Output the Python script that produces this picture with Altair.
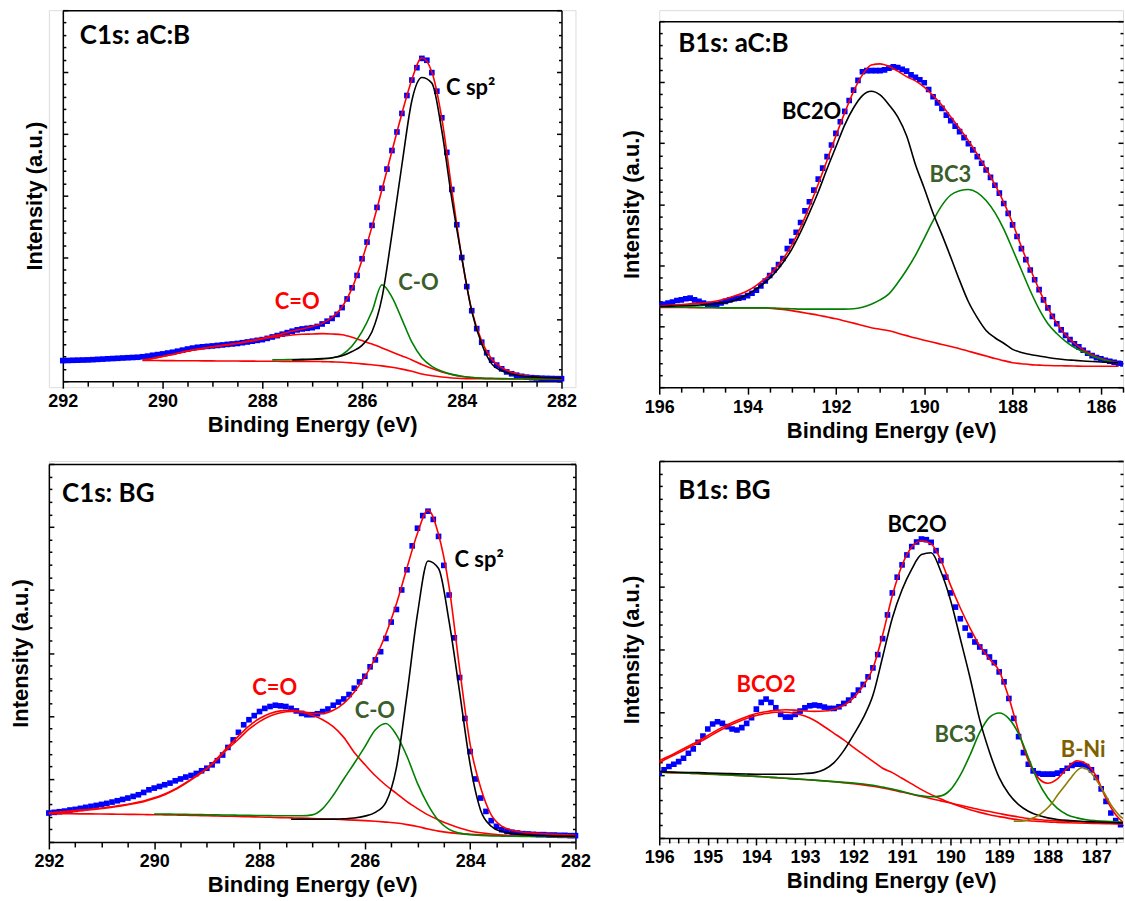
import altair as alt
import pandas as pd

def grid(start, stop, step):
    n = int(round((start - stop) / step)) + 1
    return [round(start - i * step, 2) for i in range(n)]

RED = "#ff0000"; BLUE = "#0000ff"; GREEN = "#008000"; BLACK = "#000000"
OLIVE = "#8c7d00"; DKGREEN = "#3b5e2b"; GOLD = "#7f6000"
AXF = "Liberation Sans"; LBF = "Lato"

# ---------------- Panel 1: C1s aC:B ----------------
P1_DATA_E = grid(292.0, 282.0, 0.1)
P1_DATA = [
 3.33, 3.35, 3.38, 3.40, 3.42, 3.44, 3.48, 3.53, 3.57, 3.62,
 3.66, 3.70, 3.75, 3.79, 3.83, 3.87, 3.95, 4.05, 4.19, 4.30,
 4.41, 4.55, 4.68, 4.85, 5.02, 5.20, 5.35, 5.48, 5.56, 5.63,
 5.70, 5.78, 5.86, 5.95, 6.02, 6.10, 6.22, 6.34, 6.47, 6.60,
 6.72, 6.92, 7.15, 7.37, 7.60, 7.85, 8.08, 8.30, 8.45, 8.55,
 8.65, 8.85, 9.25, 9.70, 10.15, 10.8, 11.9, 13.3, 15.1, 17.1,
 19.8, 22.5, 25.2, 28.1, 31.2, 34.3, 37.3, 40.3, 43.3, 46.2,
 48.7, 50.7, 52.2, 51.9, 49.9, 46.9, 42.6, 37.0, 31.0, 25.3,
 20.0, 15.3, 11.4, 8.5, 6.3, 4.6, 3.4, 2.6, 2.0, 1.5,
 1.2, 0.97, 0.78, 0.65, 0.57, 0.52, 0.48, 0.45, 0.43, 0.41,
 0.40]
P1_FIT_E = grid(290.4, 282.0, 0.2)
P1_ENV = [
 3.4, 3.68, 4.0, 4.32, 4.7, 5.02, 5.3, 5.57, 5.8, 6.03,
 6.3, 6.6, 6.95, 7.3, 7.65, 8.1, 8.45, 8.85, 9.35, 10.3,
 12.0, 15.0, 19.6, 25.0, 31.0, 37.2, 43.3, 48.8, 52.3, 50.0,
 42.5, 31.0, 20.0, 11.5, 6.5, 3.6, 2.2, 1.45, 1.0, 0.75,
 0.6, 0.5, 0.45]
P1_CEQO = [
 3.39, 3.66, 3.98, 4.3, 4.68, 5.0, 5.27, 5.54, 5.75, 5.97,
 6.24, 6.5, 6.83, 7.1, 7.3, 7.47, 7.58, 7.63, 7.69, 7.63,
 7.5, 7.1, 6.56, 6.0, 5.38, 4.73, 4.09, 3.44, 2.69, 2.04,
 1.5, 1.08, 0.75, 0.6, 0.48, 0.43, 0.4, 0.4, 0.4, 0.4,
 0.4, 0.4, 0.4]
P1_BG = [
 3.35, 3.34, 3.33, 3.32, 3.31, 3.3, 3.29, 3.28, 3.27, 3.26,
 3.25, 3.24, 3.23, 3.22, 3.21, 3.2, 3.2, 3.2, 3.17, 3.12,
 3.07, 2.95, 2.8, 2.65, 2.48, 2.25, 1.95, 1.6, 1.15, 0.88,
 0.68, 0.52, 0.43, 0.4, 0.4, 0.4, 0.4, 0.4, 0.4, 0.4,
 0.4, 0.4, 0.4]
P1_CO_E = grid(287.8, 282.0, 0.2)
P1_CO = [
 3.45, 3.47, 3.5, 3.52, 3.55, 3.6, 3.75, 4.3, 5.7, 8.0,
 11.3, 15.6, 13.6, 10.0, 6.3, 3.8, 2.4, 1.6, 1.1, 0.8,
 0.6, 0.5, 0.45, 0.42, 0.4, 0.4, 0.4, 0.4, 0.4, 0.4]
P1_CSP2_E = grid(287.4, 282.0, 0.2)
P1_CSP2 = [
 3.45, 3.48, 3.55, 3.65, 3.8, 4.1, 4.8, 5.8, 8.0, 13.5,
 23.8, 35.0, 45.4, 49.1, 48.2, 40.5, 29.5, 20.0, 11.3, 6.0,
 2.8, 1.7, 1.15, 0.85, 0.7, 0.6, 0.55, 0.5]
P1_TITLE = ("C1s: aC:B", 291.66, 54.6)
P1_PEAKS = {"t": ["C sp\u00b2", "C-O", "C=O"], "E": [283.82, 284.87, 287.3],
            "V": [46.3, 14.8, 11.6], "c": [BLACK, DKGREEN, RED]}

# ---------------- Panel 2: B1s aC:B ----------------
P2_DATA_E = grid(196.0, 185.5, 0.1)
P2_DATA = [
 13.5, 13.6, 13.8, 13.95, 14.2, 14.3, 14.5, 14.6, 14.3, 14.06,
 13.8, 13.6, 13.5, 13.6, 13.8, 14.06, 14.3, 14.5, 14.6, 14.7,
 15.0, 15.4, 15.9, 16.6, 17.4, 18.3, 19.2, 20.1, 21.1, 22.7,
 23.9, 25.4, 27.0, 28.9, 30.4, 32.3, 34.1, 35.9, 37.8, 39.7,
 41.6, 43.5, 45.2, 47.0, 48.7, 50.3, 51.7, 51.9, 51.9, 51.9,
 51.9, 52.0, 52.3, 52.5, 52.4, 52.1, 51.8, 51.2, 50.8, 50.4,
 49.9, 48.8, 47.6, 46.6, 45.7, 44.6, 43.7, 42.8, 41.9, 40.9,
 39.9, 38.9, 37.8, 36.7, 35.6, 34.4, 33.1, 31.8, 30.1, 28.5,
 26.6, 24.7, 22.7, 20.9, 19.2, 17.6, 16.0, 14.3, 13.0, 11.6,
 10.4, 9.4, 8.5, 7.8, 7.1, 6.6, 6.05, 5.56, 5.18, 4.85,
 4.63, 4.41, 4.25, 4.09, 3.92, 3.81]
P2_FIT_E = grid(196.0, 185.6, 0.2)
P2_ENV = [
 13.3, 13.4, 13.5, 13.6, 13.7, 13.8, 14.0, 14.3, 14.7, 15.2,
 15.8, 16.7, 17.8, 19.2, 21.0, 23.3, 26.2, 29.6, 33.3, 37.2,
 41.2, 45.0, 48.5, 51.2, 52.8, 53.0, 52.6, 51.8, 50.9, 50.2,
 49.2, 47.8, 46.2, 44.3, 42.4, 40.4, 38.2, 35.8, 33.2, 30.3,
 26.9, 23.0, 19.4, 16.0, 13.0, 10.5, 8.6, 7.2, 6.1, 5.3,
 4.7, 4.3, 4.0]
P2_BC2O = [
 13.2, 13.25, 13.3, 13.35, 13.4, 13.5, 13.6, 13.8, 14.0, 14.5,
 15.2, 16.1, 17.2, 18.6, 20.4, 22.6, 25.4, 28.6, 32.0, 35.8,
 39.4, 43.0, 45.8, 47.8, 48.5, 47.9, 46.3, 44.3, 41.2, 36.5,
 32.6, 28.5, 25.0, 21.3, 17.5, 14.0, 11.4, 9.3, 8.1, 7.2,
 6.2, 5.7, 5.35, 5.1, 4.85, 4.65, 4.5, 4.4, 4.3, 4.2,
 4.12, 4.05, 4.0]
P2_BC3 = [
 13.2, 13.15, 13.1, 13.1, 13.1, 13.05, 13.05, 13.0, 13.0, 13.0,
 13.0, 13.0, 13.0, 12.95, 12.9, 12.85, 12.8, 12.8, 12.8, 12.8,
 12.8, 12.8, 12.85, 13.1, 13.6, 14.3, 15.3, 17.1, 19.2, 21.6,
 24.4, 27.3, 29.8, 31.5, 32.2, 32.4, 31.9, 30.6, 28.6, 25.9,
 22.6, 19.2, 15.8, 12.8, 10.4, 8.8, 7.5, 6.5, 5.8, 5.1,
 4.6, 4.2, 3.95]
P2_BG = [
 13.08, 13.07, 13.06, 13.05, 13.04, 13.02, 13.02, 13.01, 13.0, 13.0,
 13.0, 12.98, 12.97, 12.88, 12.75, 12.55, 12.3, 12.05, 11.8, 11.5,
 11.2, 10.85, 10.5, 10.1, 9.75, 9.5, 9.25, 8.85, 8.45, 8.05,
 7.7, 7.35, 7.0, 6.65, 6.3, 5.9, 5.5, 5.1, 4.7, 4.35,
 4.0, 3.85, 3.7, 3.62, 3.54, 3.51, 3.49, 3.46, 3.43, 3.43,
 3.43, 3.43, 3.43]
P2_TITLE = ("B1s: aC:B", 195.57, 54.9)
P2_PEAKS = {"t": ["BC2O", "BC3"], "E": [192.55, 189.41], "V": [43.9, 33.6], "c": [BLACK, DKGREEN]}

# ---------------- Panel 3: C1s BG ----------------
P3_DATA_E = grid(292.0, 282.0, 0.1)
P3_DATA = [
 4.59, 4.70, 4.80, 4.90, 5.07, 5.17, 5.33, 5.49, 5.65, 5.80,
 5.96, 6.12, 6.33, 6.54, 6.75, 6.97, 7.23, 7.49, 7.86, 8.28,
 8.55, 8.81, 9.08, 9.34, 9.71, 10.0, 10.3, 10.55, 10.87, 11.3,
 11.7, 12.24, 12.9, 13.8, 15.0, 16.2, 17.4, 18.6, 19.4, 20.05,
 20.7, 21.2, 21.5, 21.7, 21.6, 21.5, 21.2, 20.8, 20.4, 20.2,
 20.2, 20.35, 20.7, 21.1, 21.7, 22.2, 22.7, 23.4, 24.4, 25.4,
 26.3, 27.8, 28.9, 30.2, 32.3, 34.9, 36.9, 40.0, 43.2, 47.0,
 49.8, 51.8, 52.5, 51.2, 48.5, 43.9, 39.2, 32.4, 26.1, 19.6,
 14.35, 10.0, 6.97, 4.85, 3.38, 2.48, 1.95, 1.69, 1.53, 1.42,
 1.32, 1.27, 1.21, 1.16, 1.16, 1.1, 1.1, 1.05, 1.05, 1.0,
 1.0]
P3_FIT_E = grid(292.0, 282.0, 0.2)
P3_ENV = [
 4.6, 4.75, 4.9, 5.05, 5.2, 5.4, 5.6, 5.85, 6.15, 6.5,
 7.0, 7.6, 8.4, 9.4, 10.5, 11.7, 13.3, 15.1, 16.8, 18.4,
 19.6, 20.4, 20.8, 20.9, 20.7, 20.4, 20.4, 20.9, 22.0, 23.8,
 26.2, 29.2, 33.0, 37.8, 43.5, 49.0, 52.7, 48.8, 40.5, 27.5,
 15.5, 8.6, 4.3, 2.5, 1.85, 1.55, 1.4, 1.3, 1.22, 1.15,
 1.1]
P3_CEQO = [
 4.6, 4.7, 4.8, 4.95, 5.1, 5.3, 5.5, 5.75, 6.05, 6.4,
 6.9, 7.5, 8.3, 9.3, 10.4, 11.6, 13.1, 14.8, 16.3, 17.9,
 19.1, 20.0, 20.5, 20.7, 20.6, 20.1, 19.4, 18.3, 16.6, 14.2,
 12.3, 10.5, 9.0, 7.7, 6.4, 5.3, 4.3, 3.5, 2.8, 2.2,
 1.75, 1.45, 1.25, 1.1, 1.0, 0.95, 0.92, 0.9, 0.88, 0.86,
 0.85]
P3_BG = [
 4.49, 4.48, 4.47, 4.46, 4.45, 4.43, 4.41, 4.39, 4.37, 4.35,
 4.33, 4.3, 4.27, 4.24, 4.2, 4.17, 4.13, 4.09, 4.05, 4.0,
 3.96, 3.91, 3.86, 3.82, 3.78, 3.72, 3.66, 3.6, 3.53, 3.46,
 3.38, 3.28, 3.15, 3.0, 2.75, 2.45, 2.06, 1.72, 1.48, 1.32,
 1.22, 1.13, 1.06, 1.02, 0.98, 0.95, 0.92, 0.9, 0.88, 0.85,
 0.84]
P3_CO_E = grid(290.0, 282.0, 0.2)
P3_CO = [
 4.45, 4.43, 4.4, 4.38, 4.35, 4.33, 4.3, 4.28, 4.25, 4.22,
 4.2, 4.18, 4.15, 4.15, 4.15, 4.3, 5.3, 7.4, 10.0, 12.5,
 15.1, 17.8, 18.8, 17.0, 13.6, 9.3, 5.9, 3.4, 2.0, 1.4,
 1.15, 1.05, 0.97, 0.93, 0.9, 0.88, 0.87, 0.86, 0.85, 0.85,
 0.85]
P3_CSP2_E = grid(287.4, 282.0, 0.2)
P3_CSP2 = [
 3.6, 3.6, 3.6, 3.6, 3.62, 3.68, 3.8, 4.1, 4.7, 6.3,
 11.8, 23.4, 36.2, 44.6, 43.4, 35.0, 23.8, 12.3, 5.0, 2.5,
 1.65, 1.35, 1.16, 1.05, 0.98, 0.93, 0.9, 0.88]
P3_TITLE = ("C1s: BG", 291.75, 54.0)
P3_PEAKS = {"t": ["C=O", "C-O", "C sp\u00b2"], "E": [287.71, 285.81, 283.83],
            "V": [23.3, 19.6, 43.6], "c": [RED, DKGREEN, BLACK]}

# ---------------- Panel 4: B1s BG ----------------
P4_DATA_E = grid(196.0, 186.5, 0.1)
P4_DATA = [
 10.3, 10.84, 11.37, 11.74, 12.16, 12.69, 13.48, 14.17, 15.23, 16.23,
 17.34, 18.13, 18.5, 18.24, 17.71, 17.34, 17.18, 17.55, 18.24, 19.14,
 20.51, 21.57, 22.1, 21.57, 20.72, 19.67, 19.24, 19.24, 19.67, 20.2,
 20.72, 21.04, 21.15, 21.04, 20.83, 20.62, 20.62, 20.88, 21.41, 21.94,
 22.73, 23.53, 24.43, 25.64, 27.07, 29.18, 31.72, 35.5, 39.0, 41.5,
 43.46, 45.04, 46.37, 47.1, 47.58, 47.47, 47.05, 45.73, 44.14, 41.5,
 39.0, 36.74, 34.89, 33.41, 32.25, 31.19, 30.4, 29.6, 28.8, 27.9,
 26.43, 24.85, 22.2, 19.03, 16.12, 13.59, 11.74, 10.68, 10.26, 10.15,
 10.15, 10.15, 10.31, 10.68, 11.1, 11.53, 11.74, 11.74, 11.37, 10.84,
 9.62, 7.82, 5.82, 3.97, 2.75, 2.11]
P4_FIT_E = grid(196.0, 186.4, 0.2)
P4_ENV = [
 12.3, 13.0, 13.8, 14.6, 15.4, 16.3, 17.2, 18.0, 18.7, 19.3,
 19.8, 20.1, 20.3, 20.4, 20.35, 20.2, 20.15, 20.2, 20.5, 21.1,
 22.3, 24.2, 27.0, 32.3, 38.6, 43.4, 46.3, 47.3, 46.8, 44.2,
 40.2, 36.6, 33.4, 30.6, 28.5, 26.6, 22.3, 17.0, 12.3, 9.6,
 8.7, 9.4, 11.1, 12.3, 11.8, 9.8, 6.3, 3.7, 2.2]
P4_BCO2 = [
 12.0, 12.8, 13.55, 14.35, 15.15, 16.0, 16.9, 17.7, 18.4, 19.0,
 19.5, 19.8, 20.0, 20.0, 19.8, 19.4, 18.7, 17.7, 16.65, 15.6,
 14.4, 13.3, 12.2, 11.1, 10.4, 9.5, 8.6, 7.7, 6.9, 6.2,
 5.55, 5.0, 4.5, 4.07, 3.7, 3.4, 3.12, 2.9, 2.75, 2.64,
 2.54, 2.48, 2.43, 2.38, 2.33, 2.3, 2.27, 2.24, 2.22]
P4_BC2O = [
 10.55, 10.5, 10.45, 10.42, 10.4, 10.35, 10.3, 10.25, 10.2, 10.17,
 10.15, 10.15, 10.15, 10.15, 10.15, 10.25, 10.4, 10.9, 12.0, 13.9,
 16.4, 19.1, 22.7, 28.8, 35.0, 39.5, 42.8, 45.1, 45.4, 42.4,
 37.8, 31.7, 25.5, 18.8, 13.7, 9.6, 7.0, 5.3, 4.25, 3.6,
 3.2, 2.95, 2.8, 2.7, 2.6, 2.54, 2.48, 2.42, 2.38]
P4_BC3 = [
 10.5, 10.44, 10.38, 10.32, 10.26, 10.2, 10.12, 10.04, 9.96, 9.88,
 9.8, 9.7, 9.6, 9.5, 9.4, 9.3, 9.2, 9.08, 8.96, 8.85,
 8.75, 8.6, 8.4, 8.1, 7.8, 7.4, 7.0, 6.7, 6.55, 6.7,
 7.7, 10.0, 13.2, 16.8, 19.2, 19.9, 19.0, 16.6, 12.8, 9.0,
 6.4, 4.7, 3.7, 3.2, 2.9, 2.75, 2.65, 2.58, 2.54]
P4_BG = [
 10.45, 10.4, 10.35, 10.3, 10.25, 10.15, 10.1, 10.05, 9.95, 9.88,
 9.8, 9.7, 9.6, 9.5, 9.4, 9.3, 9.18, 9.06, 8.94, 8.8,
 8.65, 8.45, 8.22, 7.95, 7.65, 7.3, 6.95, 6.6, 6.25, 5.9,
 5.55, 5.2, 4.85, 4.5, 4.2, 3.9, 3.6, 3.35, 3.1, 2.95,
 2.8, 2.72, 2.65, 2.6, 2.55, 2.5, 2.45, 2.4, 2.35]
P4_BNI_E = grid(188.7, 186.4, 0.1)
P4_BNI = [
 2.68, 2.66, 2.72, 2.9, 3.2, 3.55, 4.1, 4.8, 5.7, 6.8,
 7.8, 8.8, 9.8, 10.7, 11.2, 11.0, 10.3, 9.25, 8.0, 6.7,
 5.3, 4.25, 3.4, 2.9]
P4_TITLE = ("B1s: BG", 195.61, 53.9)
P4_PEAKS = {"t": ["BCO2", "BC2O", "BC3", "B-Ni"], "E": [193.80, 190.69, 189.90, 187.27],
            "V": [23.25, 48.74, 15.32, 12.94], "c": [RED, BLACK, DKGREEN, GOLD]}

# tick positions
YMAJ = [0, 10, 20, 30, 40, 50, 60]
YMIN = [v for v in range(2, 60, 2) if v % 10 != 0]
X_MAJ_C = [292, 290, 288, 286, 284, 282]
X_MIN_C = [v for v in grid(292.0, 282.0, 0.5) if round(v * 10) % 20 != 0]
X_MAJ_B2 = [196, 194, 192, 190, 188, 186]
X_MIN_B2 = [v for v in grid(196.0, 185.5, 0.5) if round(v * 10) % 20 != 0]
X_MAJ_B4 = [196, 195, 194, 193, 192, 191, 190, 189, 188, 187]
X_MIN_B4 = [v for v in grid(196.0, 186.6, 0.2) if round(v * 10) % 10 != 0]


def axis_set(c):
    W, H = c["W"], c["H"]
    xl, xr, yt, yb = c["xl"], c["xr"], c["yt"], c["yb"]
    tk = dict(tickColor="black", tickWidth=1.5, grid=False, title=None, labels=False)
    x_main = alt.Axis(orient="bottom", offset=yb - H, values=c["xmaj"], format="d",
                      labelFont=AXF, labelFontWeight="bold", labelFontSize=18,
                      labelColor="black", labelPadding=4, labelFlush=False,
                      labelOverlap=False, tickSize=7, tickWidth=1.5, tickColor="black",
                      domainColor="black", domainWidth=1.5, grid=False,
                      title="Binding Energy (eV)", titleFont=AXF, titleFontWeight="bold",
                      titleFontSize=22, titleColor="black", titlePadding=4)
    x_minor = alt.Axis(orient="bottom", offset=yb - H, values=c["xmin"], domain=False,
                       tickSize=5, **tk)
    x_top = alt.Axis(orient="top", offset=-yt, labels=False, ticks=False, domain=True,
                     domainColor="black", domainWidth=1.5, grid=False, title=None)
    y_frame = alt.Axis(orient="left", offset=-xl, labels=False, ticks=False, domain=True,
                       domainColor="black", domainWidth=1.5, grid=False,
                       title="Intensity (a.u.)", titleFont=AXF, titleFontWeight="bold",
                       titleFontSize=22, titleColor="black", titlePadding=16)
    y_maj = alt.Axis(orient="right", offset=xl - W, values=YMAJ, domain=False, tickSize=5, **tk)
    y_min = alt.Axis(orient="right", offset=xl - W, values=YMIN, domain=False, tickSize=3, **tk)
    y_rmaj = alt.Axis(orient="left", offset=-xr, values=YMAJ, domain=c["rframe"],
                      domainColor="black", domainWidth=1.5, tickSize=5, **tk)
    y_rmin = alt.Axis(orient="left", offset=-xr, values=YMIN, domain=False, tickSize=3, **tk)
    return [x_main, x_minor, x_top], [y_frame, y_maj, y_min, y_rmaj, y_rmin]


def make_panel(c, pts, lines, title_lab, peaks):
    xs = alt.Scale(domain=c["xdom"], range=[c["xr"], c["xl"]], nice=False, zero=False)
    ys = alt.Scale(domain=[0, 60], range=[c["yb"], c["yt"]], nice=False, zero=False)
    xa, ya = axis_set(c)
    layers = []
    assert len(pts[0]) == len(pts[1]), (c["name"], len(pts[0]), len(pts[1]))
    dfp = pd.DataFrame({"E": pts[0], "V": pts[1]})
    layers.append(alt.Chart(dfp).mark_square(size=32, color=BLUE, opacity=1, clip=c["clip"]).encode(
        x=alt.X("E:Q", scale=xs, axis=xa[0]), y=alt.Y("V:Q", scale=ys, axis=ya[0])))
    for i, (E, V, col) in enumerate(lines):
        assert len(E) == len(V), (c["name"], i, len(E), len(V))
        xaxis = xa[i + 1] if i + 1 < len(xa) else None
        yaxis = ya[i + 1] if i + 1 < len(ya) else None
        df = pd.DataFrame({"E": E, "V": V})
        layers.append(alt.Chart(df).mark_line(color=col, strokeWidth=1.6, interpolate="monotone",
                                              clip=True).encode(
            x=alt.X("E:Q", scale=xs, axis=xaxis), y=alt.Y("V:Q", scale=ys, axis=yaxis)))
    dft = pd.DataFrame({"E": [title_lab[1]], "V": [title_lab[2]], "t": [title_lab[0]]})
    layers.append(alt.Chart(dft).mark_text(font=LBF, fontWeight="bold", fontSize=26, align="left",
                                           baseline="alphabetic", color="black").encode(
        x=alt.X("E:Q", scale=xs, axis=None), y=alt.Y("V:Q", scale=ys, axis=None), text="t:N"))
    dfk = pd.DataFrame(peaks)
    layers.append(alt.Chart(dfk).mark_text(font=LBF, fontWeight="bold", fontSize=22, align="center",
                                           baseline="alphabetic").encode(
        x=alt.X("E:Q", scale=xs, axis=None), y=alt.Y("V:Q", scale=ys, axis=None), text="t:N",
        color=alt.Color("c:N", scale=None)))
    return alt.layer(*layers).properties(width=c["W"], height=c["H"]).resolve_axis(
        x="independent", y="independent")


C1 = dict(name="p1", W=528, H=378, xl=14, xr=514, yt=0, yb=372, xdom=[282, 292],
          xmaj=X_MAJ_C, xmin=X_MIN_C, rframe=True, clip=False)
C2 = dict(name="p2", W=465, H=378, xl=0, xr=465, yt=11, yb=378, xdom=[185.5, 196],
          xmaj=X_MAJ_B2, xmin=X_MIN_B2, rframe=False, clip=True)
C3 = dict(name="p3", W=528, H=382, xl=0, xr=528, yt=3, yb=382, xdom=[282, 292],
          xmaj=X_MAJ_C, xmin=X_MIN_C, rframe=True, clip=False)
C4 = dict(name="p4", W=465, H=382, xl=0, xr=465, yt=0, yb=378, xdom=[186.45, 196],
          xmaj=X_MAJ_B4, xmin=X_MIN_B4, rframe=False, clip=True)

p1 = make_panel(C1, (P1_DATA_E, P1_DATA),
                [(P1_FIT_E, P1_ENV, RED), (P1_FIT_E, P1_BG, RED), (P1_FIT_E, P1_CEQO, RED),
                 (P1_CO_E, P1_CO, GREEN), (P1_CSP2_E, P1_CSP2, BLACK)], P1_TITLE, P1_PEAKS)
p2 = make_panel(C2, (P2_DATA_E, P2_DATA),
                [(P2_FIT_E, P2_ENV, RED), (P2_FIT_E, P2_BG, RED), (P2_FIT_E, P2_BC3, GREEN),
                 (P2_FIT_E, P2_BC2O, BLACK)], P2_TITLE, P2_PEAKS)
p3 = make_panel(C3, (P3_DATA_E, P3_DATA),
                [(P3_FIT_E, P3_ENV, RED), (P3_FIT_E, P3_BG, RED), (P3_FIT_E, P3_CEQO, RED),
                 (P3_CO_E, P3_CO, GREEN), (P3_CSP2_E, P3_CSP2, BLACK)], P3_TITLE, P3_PEAKS)
p4 = make_panel(C4, (P4_DATA_E, P4_DATA),
                [(P4_FIT_E, P4_ENV, RED), (P4_FIT_E, P4_BG, RED), (P4_FIT_E, P4_BCO2, RED),
                 (P4_FIT_E, P4_BC3, GREEN), (P4_FIT_E, P4_BC2O, BLACK), (P4_BNI_E, P4_BNI, OLIVE)],
                P4_TITLE, P4_PEAKS)

chart = alt.concat(p1, p2, p3, p4, columns=2, spacing={"row": 74, "column": 84},
                   bounds="flush").properties(
    padding={"left": 9, "top": 7, "right": 0, "bottom": 0}
).configure_view(stroke="transparent").configure(background="white")

chart.save("out.html", embed_options={"renderer": "svg", "actions": False})
